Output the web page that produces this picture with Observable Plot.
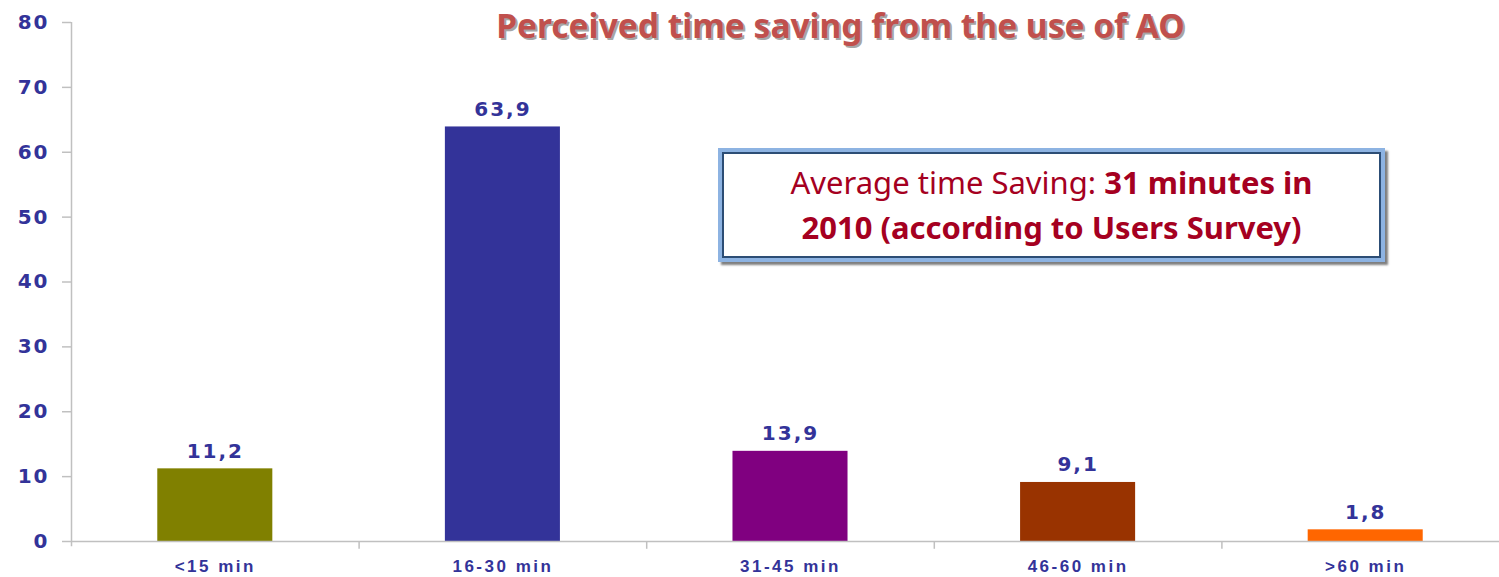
<!DOCTYPE html>
<html><head><meta charset="utf-8">
<script src="https://cdn.jsdelivr.net/npm/d3@7"></script>
<script src="https://cdn.jsdelivr.net/npm/@observablehq/plot@0.6"></script>
<style>
body{margin:0;background:#fff;}
#wrap{position:relative;width:1499px;height:577px;overflow:hidden;}
#box{position:absolute;left:718px;top:148px;width:659px;height:106px;border:4px solid #8DB3E2;
 box-shadow: inset 0 0 0 2px #2C4D75, 3px 3px 2px rgba(0,0,0,0.5);background:#fff;
 display:flex;flex-direction:column;justify-content:center;align-items:center;
 font-family:"Noto Sans",sans-serif;font-size:31px;color:#A50021;line-height:45px;}
#box b{font-weight:700;}
</style></head><body><div id="wrap"></div>
<script>
const categories = ["<15 min","16-30 min","31-45 min","46-60 min",">60 min"];
const values = [11.2, 63.9, 13.9, 9.1, 1.8];
const colors = ["#808000","#333399","#800080","#993300","#FF6600"];
const yTicks = [0,10,20,30,40,50,60,70,80];
const title = "Perceived time saving from the use of AO";
const noteLead = "Average time Saving: ";
const noteBold1 = "31 minutes in";
const noteBold2 = "2010 (according to Users Survey)";

const data = categories.map((c,i)=>({category:c, value:values[i], color:colors[i]}));

const W = 1499, H = 577, mL = 71, mR = -10, mT = 22, mB = 36;
const pIn = 0.6, pOut = 0.3;
const step = (W - mR - mL) / (categories.length - pIn + 2*pOut);
const half = step/2;
const axisGray = "#C0C0C0";
const blue = "#333399";

const chart = Plot.plot({
  width: W, height: H,
  marginLeft: mL, marginRight: mR, marginTop: mT, marginBottom: mB,
  style: {background:"#fff", overflow:"hidden"},
  x: {domain: categories, paddingInner: pIn, paddingOuter: pOut, round: false, label: null},
  y: {domain: [0, 80], label: null},
  color: {type: "identity"},
  marks: [
    Plot.barY(data, {x: "category", y: "value", fill: "color"}),
    Plot.ruleY([0], {stroke: axisGray, strokeWidth: 1.5}),
    Plot.ruleX([categories[0]], {dx: -half, y1: -0.8, y2: 80, stroke: axisGray, strokeWidth: 1.5}),
    Plot.ruleX(categories.slice(1), {dx: -half, y1: 0, y2: -1.2, stroke: axisGray, strokeWidth: 1.5}),
    Plot.axisY({ticks: yTicks, tickFormat: d => String(d), tickSize: 9, tickPadding: 13,
      stroke: axisGray, strokeWidth: 1.5, fill: blue, fontSize: 20, fontWeight: "bold",
      fontFamily: "DejaVu Sans", label: null}),
    Plot.axisX({tickSize: 0, tickPadding: 18, fill: blue, fontSize: 17, fontWeight: "bold",
      fontFamily: "Liberation Sans", label: null}),
    Plot.text(data, {x: "category", y: "value", text: d => d.value.toFixed(1).replace(".", ","),
      dy: -11, lineAnchor: "bottom", fill: blue, fontSize: 20, fontWeight: "bold",
      fontFamily: "DejaVu Sans"}),
    Plot.text([title], {frameAnchor: "top", dx: 52, dy: 7, lineAnchor: "middle",
      fill: "#A6A6A6", fontSize: 33.5, fontWeight: "bold", fontFamily: "Noto Sans"}),
    Plot.text([title], {frameAnchor: "top", dx: 50, dy: 5, lineAnchor: "middle",
      fill: "#C0504D", fontSize: 33.5, fontWeight: "bold", fontFamily: "Noto Sans"})
  ]
});

const wrap = document.getElementById("wrap");
wrap.appendChild(chart);
d3.select(chart).selectAll("g[aria-label='y-axis tick label'] text").style("letter-spacing", "2px");
d3.select(chart).selectAll("g[aria-label='text'] text").filter(function(){ return this.textContent !== title; })
  .style("letter-spacing", "2px");
d3.select(chart).selectAll("g[aria-label='x-axis tick label'] text").style("letter-spacing", "2.5px");

const box = document.createElement("div");
box.id = "box";
const l1 = document.createElement("div");
l1.appendChild(document.createTextNode(noteLead));
const b1 = document.createElement("b"); b1.textContent = noteBold1; l1.appendChild(b1);
const l2 = document.createElement("div");
const b2 = document.createElement("b"); b2.textContent = noteBold2; l2.appendChild(b2);
box.appendChild(l1); box.appendChild(l2);
wrap.appendChild(box);
</script>
</body></html>
